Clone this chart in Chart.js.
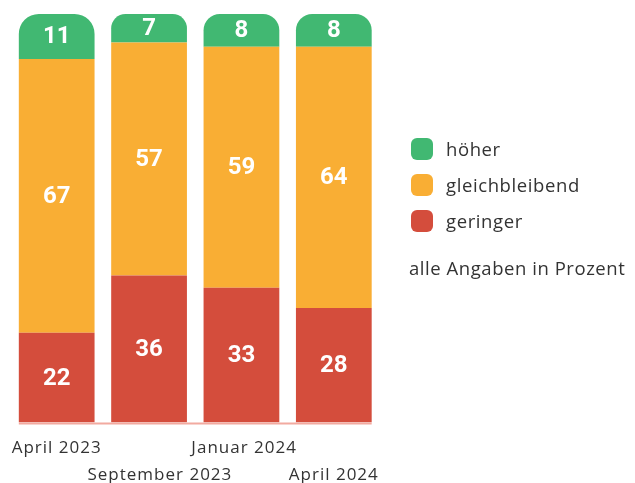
<!DOCTYPE html>
<html>
<head>
<meta charset="utf-8">
<script src="https://cdn.jsdelivr.net/npm/chart.js@4"></script>
<style>
  html, body { margin: 0; padding: 0; background: #fff; }
  #wrap { position: relative; width: 635px; height: 483px; overflow: hidden; }
  #c { position: absolute; left: 0; top: 0; }
  #legend { position: absolute; left: 411px; top: 138px; font-family: "Open Sans", sans-serif; font-size: 18.5px; color: #333; letter-spacing: 0.6px; }
  .item { position: relative; height: 36px; }
  .box { position: absolute; left: 0; top: 0; width: 22px; height: 22px; border-radius: 6px; }
  .lbl { position: absolute; left: 35px; top: 11px; transform: translateY(-50%); white-space: nowrap; line-height: 1; }
  #note { position: absolute; left: 409px; top: 268px; transform: translateY(-50%); font-family: "Open Sans", sans-serif; font-size: 18.5px; color: #333; white-space: nowrap; line-height: 1; letter-spacing: 0.55px; }
</style>
</head>
<body>
<div id="wrap">
  <canvas id="c" width="635" height="483"></canvas>
  <div id="legend"></div>
  <div id="note">alle Angaben in Prozent</div>
</div>
<script>
const categories = [["April 2023", ""], ["", "    September 2023"], [" Januar 2024", ""], ["", "April 2024"]];
const geringer = [22, 36, 33, 28];
const gleichbleibend = [67, 57, 59, 64];
const hoeher = [11, 7, 8, 8];
const seriesNames = ["höher", "gleichbleibend", "geringer"];
const colors = { green: "#41b872", orange: "#f9ae34", red: "#d44d3c" };

// HTML legend
const legendItems = [[seriesNames[0], colors.green], [seriesNames[1], colors.orange], [seriesNames[2], colors.red]];
const legendEl = document.getElementById('legend');
legendItems.forEach(([name, col]) => {
  const d = document.createElement('div'); d.className = 'item';
  const b = document.createElement('div'); b.className = 'box'; b.style.background = col;
  const t = document.createElement('div'); t.className = 'lbl'; t.textContent = name;
  d.appendChild(b); d.appendChild(t); legendEl.appendChild(d);
});

const spacing = {
  id: 'spacing',
  beforeDraw(chart) { chart.ctx.letterSpacing = '1px'; }
};

const valueLabels = {
  id: 'valueLabels',
  afterDatasetsDraw(chart) {
    const ctx = chart.ctx;
    ctx.save();
    ctx.letterSpacing = '0px';
    ctx.fillStyle = '#fff';
    ctx.font = 'bold 24px Roboto, sans-serif';
    ctx.textAlign = 'center';
    ctx.textBaseline = 'middle';
    chart.data.datasets.forEach((ds, i) => {
      const meta = chart.getDatasetMeta(i);
      meta.data.forEach((el, j) => {
        const p = el.getProps(['x', 'y', 'base'], true);
        ctx.fillText(String(ds.data[j]), p.x, (p.y + p.base) / 2 + 1);
      });
    });
    ctx.restore();
  }
};

const baseLine = {
  id: 'baseLine',
  afterDatasetsDraw(chart) {
    const meta = chart.getDatasetMeta(0);
    const first = meta.data[0].getProps(['x', 'width'], true);
    const last = meta.data[meta.data.length - 1].getProps(['x', 'width'], true);
    const y = chart.scales.y.getPixelForValue(0);
    const ctx = chart.ctx;
    ctx.save();
    ctx.strokeStyle = '#f2aaa0';
    ctx.lineWidth = 2;
    ctx.beginPath();
    ctx.moveTo(first.x - first.width / 2, y + 1);
    ctx.lineTo(last.x + last.width / 2, y + 1);
    ctx.stroke();
    ctx.restore();
  }
};

new Chart(document.getElementById('c'), {
  type: 'bar',
  data: {
    labels: categories,
    datasets: [
      { label: seriesNames[2], data: geringer, backgroundColor: colors.red, borderRadius: 0 },
      { label: seriesNames[1], data: gleichbleibend, backgroundColor: colors.orange, borderRadius: 0 },
      { label: seriesNames[0], data: hoeher, backgroundColor: colors.green,
        borderRadius: { topLeft: 20, topRight: 20, bottomLeft: 0, bottomRight: 0 }, borderSkipped: false }
    ]
  },
  options: {
    responsive: false,
    animation: false,
    events: [],
    layout: { padding: { left: 10.5, right: 255, top: 14, bottom: 0 } },
    datasets: { bar: { categoryPercentage: 1, barPercentage: 0.82 } },
    plugins: { legend: { display: false }, tooltip: { enabled: false } },
    scales: {
      x: {
        stacked: true,
        grid: { display: false, drawTicks: false },
        border: { display: false },
        ticks: {
          color: '#333', font: { family: '"Open Sans", sans-serif', size: 17, lineHeight: 27 / 17 },
          padding: 12, maxRotation: 0, minRotation: 0, autoSkip: false
        },
        afterFit(scale) { scale.height = 60.5; }
      },
      y: { stacked: true, display: false, min: 0, max: 100 }
    }
  },
  plugins: [spacing, valueLabels, baseLine]
});
</script>
</body>
</html>
